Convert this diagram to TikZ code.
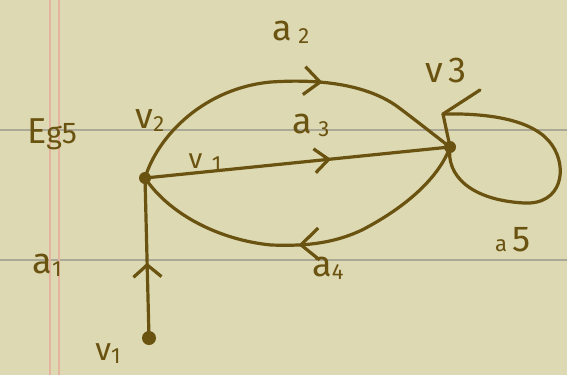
\documentclass[tikz,border=0pt]{standalone}
\usepackage{fontspec}
\setmainfont{Fira Sans}
\usetikzlibrary{arrows.meta,decorations.markings}
\definecolor{paper}{RGB}{221,217,178}
\definecolor{ink}{RGB}{106,82,16}
\definecolor{ruleline}{RGB}{172,168,150}
\definecolor{marginline}{RGB}{228,180,160}
\newcommand\lsub[1]{\raisebox{-3pt}{\fontsize{22}{22}\selectfont #1}}
\tikzset{
  edge/.style={draw=ink, line width=3.2pt, line cap=round, line join=round},
  dot/.style={circle, fill=ink, inner sep=0pt, minimum size=12pt},
  lbl/.style={text=ink, font=\fontsize{36}{36}\selectfont, inner sep=0pt},
  midarrow/.style args={#1/#2/#3}{postaction={decorate}, decoration={markings,
    mark=at position #1 with {\arrow[ink, line width=3.2pt]{Straight Barb[length=#2pt,width=#3pt]}}}},
}
\begin{document}
\begin{tikzpicture}[x=1pt,y=-1pt]
\fill[paper] (0,0) rectangle (567,375);
\useasboundingbox (0,0) rectangle (567,375);
% paper rules
\draw[ruleline, line width=2pt] (0,130) -- (567,130);
\draw[ruleline, line width=2pt] (0,260) -- (567,260);
\draw[marginline, line width=2.5pt] (50,0) -- (50,375);
\draw[marginline, line width=2.5pt] (59,0) -- (59,375);
% vertices
\node[dot] (v2) at (145,178) {};
\node[dot] (v3) at (450,147) {};
\node[dot, minimum size=14pt] (v1) at (149,338) {};
% edges
\draw[edge, midarrow=0.47/12/28] (v1.center) -- (v2.center);
\draw[edge, midarrow=0.61/14/24] (v2.center) -- (v3.center);
\draw[edge, midarrow=0.6/16/28] (v2.center) .. controls (158,135) and (205,88) .. (271,82)
  .. controls (330,78) and (372,88) .. (398,107) .. controls (418,122) and (438,138) .. (v3.center);
\draw[edge, midarrow=0.52/18/32] (v3.center) .. controls (440,175) and (410,205) .. (362,230)
  .. controls (330,245) and (300,246) .. (271,245) .. controls (220,240) and (170,215) .. (v2.center);
\coordinate (c5) at (443,114);
\coordinate (b5) at (480,90);
\draw[edge] (v3.center) .. controls (446,175) and (470,200) .. (524,203)
  .. controls (562,205) and (568,168) .. (552,145) .. controls (535,120) and (490,113) .. (c5) -- (v3.center);
\draw[edge] (c5) -- (b5);
% labels
\node[lbl] (eg) at (52,134) {E{\fontsize{30}{30}\selectfont g5}};
\node[lbl] (lv2) at (150,121) {v\lsub{2}};
\node[lbl] (la2) at (291,32) {a\,\lsub{2}};
\node[lbl] (la3) at (311,125) {a\,\lsub{3}};
\node[lbl] (lv3) at (446,70) {v\,3};
\node[lbl, font=\fontsize{28}{28}\selectfont] (lv1e) at (205,163) {v\,\,\lsub{1}};
\node[lbl] (la1) at (47,265) {a\lsub{1}};
\node[lbl] (la4) at (328,268) {a\lsub{4}};
\node[lbl] (la5) at (513,240) {{\fontsize{22}{22}\selectfont a}\,5};
\node[lbl, font=\fontsize{32}{32}\selectfont] (lv1) at (108,354) {v\lsub{1}};
\end{tikzpicture}
\end{document}
